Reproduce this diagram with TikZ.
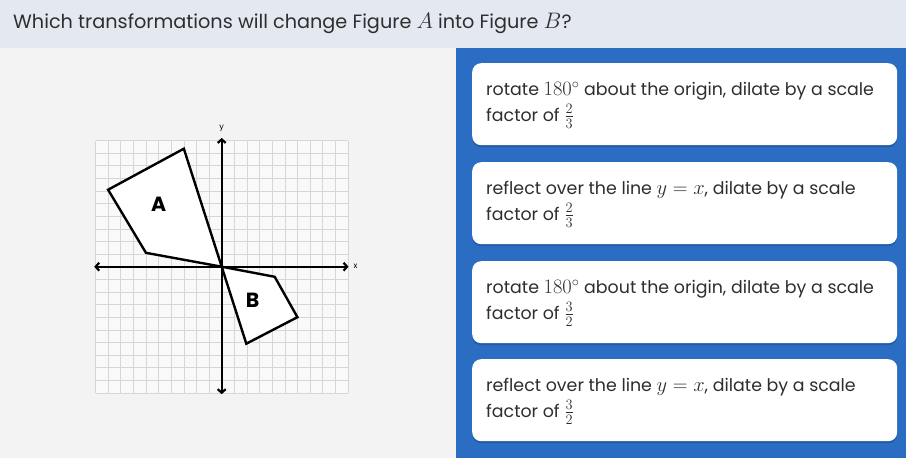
\RequirePackage{fix-cm}
\documentclass[tikz,border=0pt]{standalone}
\usepackage[no-math]{fontspec}
\setmainfont{Poppins}
\usetikzlibrary{arrows.meta}
\definecolor{hdrbg}{HTML}{E4E9F1}
\definecolor{panelbg}{HTML}{F3F3F3}
\definecolor{bluebg}{HTML}{2B6DC2}
\definecolor{shadowblue}{HTML}{1C4F93}
\definecolor{txt}{HTML}{2E2E2E}
\definecolor{gridc}{HTML}{D6D6D6}
\definecolor{gridbg}{HTML}{F9F9F9}
\newcommand\km[1]{{\fontsize{20.5}{26}\selectfont$#1$}}
\newcommand\tm[1]{{\fontsize{22.4}{24}\selectfont$#1$}}
\tikzset{
  card/.style={fill=white, rounded corners=9pt, minimum width=425pt, minimum height=82pt, anchor=north west, inner sep=0pt,
    preaction={fill=shadowblue, fill opacity=0.6, transform canvas={yshift=-2pt}}},
  cardtext/.style={anchor=west, align=left, inner sep=0pt, text=txt, font=\fontsize{17.4}{26}\selectfont},
  axis/.style={line width=2.2pt, {Straight Barb[length=3.5pt,width=8pt]}-{Straight Barb[length=3.5pt,width=8pt]}},
  figshape/.style={line width=2.4pt, line join=miter, fill=white},
  figlabel/.style={font=\fontsize{20.5}{20}\selectfont\bfseries, inner sep=0pt},
  axlabel/.style={font=\fontsize{8}{8}\selectfont, inner sep=0pt}
}
\begin{document}
\begin{tikzpicture}[x=1pt,y=-1pt]
\useasboundingbox (0,0) rectangle (906,458);
\fill[hdrbg] (0,0) rectangle (906,48);
\fill[panelbg] (0,48) rectangle (456,458);
\fill[bluebg] (456,48) rectangle (906,458);
\node[anchor=west, inner sep=0pt, text=txt, font=\fontsize{19.25}{22}\selectfont] (title) at (13,23.5)
  {Which transformations will change Figure \tm{A} into Figure \tm{B}?};

\node[card] (c1) at (472,63) {};
\node[cardtext] (t1) at ([xshift=14pt,yshift=-1pt]c1.west) {rotate \km{180^\circ} about the origin, dilate by a scale\\factor of \km{\frac{2}{3}}};
\node[card] (c2) at (472,162) {};
\node[cardtext] (t2) at ([xshift=14pt,yshift=-1pt]c2.west) {reflect over the line \km{y=x}, dilate by a scale\\factor of \km{\frac{2}{3}}};
\node[card] (c3) at (472,261) {};
\node[cardtext] (t3) at ([xshift=14pt,yshift=-1pt]c3.west) {rotate \km{180^\circ} about the origin, dilate by a scale\\factor of \km{\frac{3}{2}}};
\node[card] (c4) at (472,359) {};
\node[cardtext] (t4) at ([xshift=14pt,yshift=-1pt]c4.west) {reflect over the line \km{y=x}, dilate by a scale\\factor of \km{\frac{3}{2}}};

\begin{scope}[shift={(221.7,266.7)}, x=12.62pt, y=12.62pt]
  \fill[gridbg] (-10,-10) rectangle (10,10);
  \draw[gridc, line width=0.6pt, step=1] (-10,-10) grid (10,10);
  \coordinate (O) at (0,0);
  \coordinate (a1) at (-3,9.35);
  \coordinate (a2) at (-9,6.1);
  \coordinate (a3) at (-6,1.1);
  \coordinate (b1) at (4.2,-0.8);
  \coordinate (b2) at (6,-4);
  \coordinate (b3) at (1.95,-6.1);
  \draw[figshape] (O) -- (a1) -- (a2) -- (a3) -- cycle;
  \draw[figshape] (O) -- (b1) -- (b2) -- (b3) -- cycle;
  \coordinate (xl0) at (-10.1,0);
  \coordinate (xl1) at (10.05,0);
  \coordinate (yl0) at (0,-10.1);
  \coordinate (yl1) at (0,10.2);
  \draw[axis] (xl0) -- (xl1);
  \draw[axis] (yl0) -- (yl1);
  \node[axlabel] (xlab) at (10.6,0) {x};
  \node[axlabel] (ylab) at (0,11.0) {y};
  \node[figlabel] (labA) at (-5.0,4.94) {A};
  \node[figlabel] (labB) at (2.46,-2.64) {B};
\end{scope}
\end{tikzpicture}
\end{document}
